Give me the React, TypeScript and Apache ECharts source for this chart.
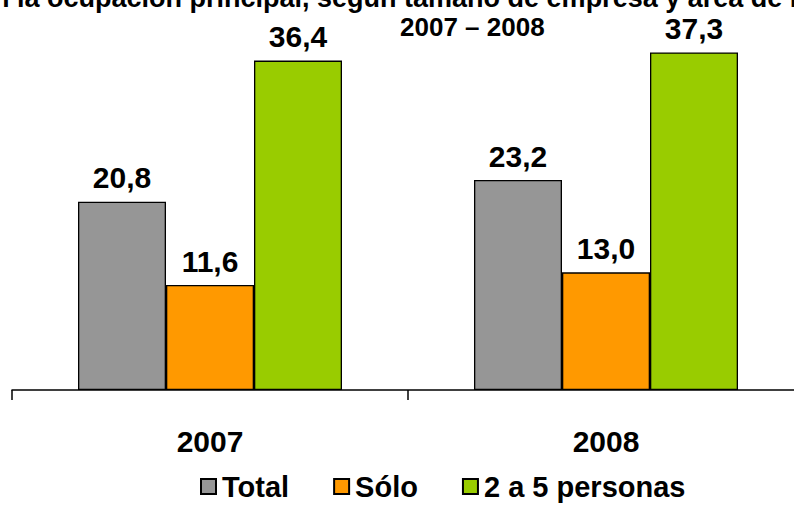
import React, { useEffect, useRef } from "react";
import * as echarts from "echarts";

const categories = ["2007", "2008"];
const seriesNames = ["Total", "Sólo", "2 a 5 personas"];
const totalValues = [20.8, 23.2];
const soloValues = [11.6, 13.0];
const smallValues = [36.4, 37.3];
const colors = ["#969696", "#FF9900", "#99CC00"];
const titleText = "en la ocupación principal, según tamaño de empresa y área de residencia";
const subtitleText = "2007 – 2008";

const fmt = (v: number) => v.toFixed(1).replace(".", ",");
const FONT = "'Liberation Sans', Arial, sans-serif";

export default function App() {
  const ref = useRef<HTMLDivElement>(null);
  useEffect(() => {
    const chart = echarts.init(ref.current!, null, { renderer: "svg" });
    const data = [totalValues, soloValues, smallValues];
    chart.setOption({
      animation: false,
      textStyle: { fontFamily: FONT },
      graphic: [
        {
          type: "text",
          left: -22,
          top: -16,
          style: {
            text: titleText,
            font: "bold 27px " + FONT,
            fill: "#000",
          },
        },
        {
          type: "text",
          left: 400,
          top: 14,
          style: {
            text: subtitleText,
            font: "bold 26px " + FONT,
            fill: "#000",
          },
        },
      ],
      legend: {
        bottom: 0,
        left: 195,
        itemWidth: 15,
        itemHeight: 15,
        itemGap: 44,
        icon: "rect",
        textStyle: { fontSize: 29, fontWeight: "bold", color: "#000", fontFamily: FONT, padding: [0, 0, 0, 1] },
        data: seriesNames,
      },
      grid: { left: 12, right: 6, top: 28, bottom: 116, containLabel: false },
      xAxis: {
        type: "category",
        data: categories,
        axisLine: { lineStyle: { color: "#000", width: 1.5 } },
        axisTick: { show: true, length: 10, alignWithLabel: false, lineStyle: { color: "#000", width: 1.5 } },
        axisLabel: { margin: 36, fontSize: 30, fontWeight: "bold", color: "#000", fontFamily: FONT },
      },
      yAxis: {
        type: "value",
        min: 0,
        max: 40,
        show: false,
        splitLine: { show: false },
      },
      series: seriesNames.map((name, i) => ({
        name,
        type: "bar",
        data: data[i],
        barWidth: 88,
        barGap: "0%",
        itemStyle: { color: colors[i], borderColor: "#000", borderWidth: 1.3 },
        label: {
          show: true,
          position: "top",
          distance: 9,
          fontSize: 30,
          fontWeight: "bold",
          color: "#000",
          fontFamily: FONT,
          formatter: (p: any) => fmt(p.value),
        },
      })),
    });
    return () => chart.dispose();
  }, []);
  return (
    <div style={{ width: 794, height: 506, position: "absolute", left: 0, top: 0, overflow: "hidden" }}>
      <div ref={ref} style={{ width: 810, height: 506, position: "absolute", left: 0, top: 0 }} />
    </div>
  );
}
